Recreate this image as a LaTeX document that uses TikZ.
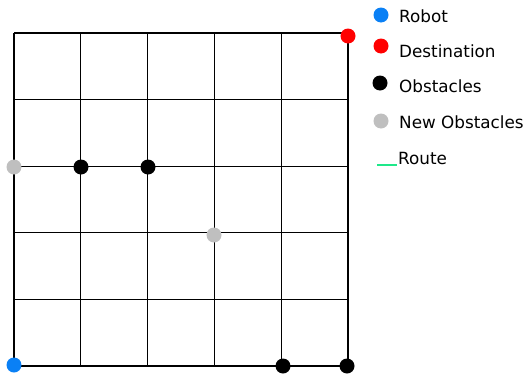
\documentclass[tikz,border=0pt]{standalone}
\usepackage{fontspec}
\setmainfont{DejaVu Sans}
\begin{document}
\begin{tikzpicture}[x=1pt,y=-1pt,
  dot/.style={circle,inner sep=0pt,minimum size=15pt,fill=#1},
  lbl/.style={anchor=base west,inner sep=0pt,font=\fontsize{16.8}{19}\selectfont}]
\useasboundingbox (0,0) rectangle (525,375);
\definecolor{robotblue}{HTML}{0A80F5}
\definecolor{newgray}{HTML}{BFBFBF}
\definecolor{routegreen}{HTML}{1EE88A}
% grid
\foreach \i in {0,...,5} {
  \draw[line width=1.2pt] ({14+\i*66.8},33) -- ({14+\i*66.8},366);
  \draw[line width=1.2pt] (14,{33+\i*66.6}) -- (348,{33+\i*66.6});
}
% grid dots
\node[dot=robotblue] (robot) at (14,365) {};
\node[dot=red] (dest) at (348,36) {};
\node[dot=newgray] (n1) at (14,167) {};
\node[dot=black] (o1) at (81,167) {};
\node[dot=black] (o2) at (148,167) {};
\node[dot=newgray] (n2) at (214,235) {};
\node[dot=black] (o3) at (283,366) {};
\node[dot=black] (o4) at (347,366) {};
% legend
\node[dot=robotblue] (lr) at (381,15) {};
\node[lbl] (tr) at (399,22) {Robot};
\node[dot=red] (ld) at (381,46) {};
\node[lbl] (td) at (399,57) {Destination};
\node[dot=black] (lo) at (380,83) {};
\node[lbl] (to) at (399,92) {Obstacles};
\node[dot=newgray] (ln) at (381,121) {};
\node[lbl] (tn) at (399,128) {New Obstacles};
\coordinate (g1) at (377,165);
\coordinate (g2) at (397,165);
\draw[routegreen,line width=2.2pt] (g1) -- (g2);
\node[lbl] (tro) at (398,164) {Route};
\end{tikzpicture}
\end{document}
